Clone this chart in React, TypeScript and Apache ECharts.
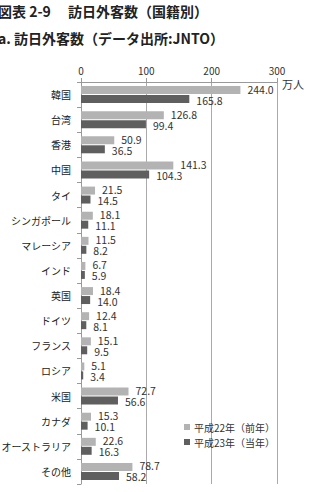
import React, { useEffect, useRef } from "react";
import * as echarts from "echarts";

const categories = ["韓国", "台湾", "香港", "中国", "タイ", "シンガポール", "マレーシア", "インド", "英国", "ドイツ", "フランス", "ロシア", "米国", "カナダ", "オーストラリア", "その他"];
const h22 = [244.0, 126.8, 50.9, 141.3, 21.5, 18.1, 11.5, 6.7, 18.4, 12.4, 15.1, 5.1, 72.7, 15.3, 22.6, 78.7];
const h23 = [165.8, 99.4, 36.5, 104.3, 14.5, 11.1, 8.2, 5.9, 14.0, 8.1, 9.5, 3.4, 56.6, 10.1, 16.3, 58.2];
const seriesNames = ["平成22年（前年）", "平成23年（当年）"];
const title1 = "図表 2-9　 訪日外客数（国籍別）";
const title2 = "a. 訪日外客数（データ出所:JNTO）";
const unit = "万人";

const FONT = "'Noto Sans CJK JP', 'Noto Sans', sans-serif";

export default function App() {
  const ref = useRef<HTMLDivElement>(null);
  useEffect(() => {
    const chart = echarts.init(ref.current!, null, { renderer: "svg" });
    const valueLabel = (dy: number) => ({
      show: true,
      position: "right",
      distance: 7,
      offset: [0, dy],
      color: "#333",
      fontSize: 10.5,
      lineHeight: 9,
      fontFamily: FONT,
      formatter: (p: any) => p.value.toFixed(1),
    });
    chart.setOption({
      animation: false,
      textStyle: { fontFamily: FONT },
      grid: { left: 81, right: 39, top: 82, bottom: 8, containLabel: false, outerBoundsMode: "none" },
      xAxis: {
        type: "value",
        position: "top",
        min: 0,
        max: 300,
        interval: 100,
        axisLine: { show: true, lineStyle: { color: "#999" } },
        axisTick: { show: true, length: 4, lineStyle: { color: "#999" } },
        axisLabel: { color: "#333", fontSize: 10, margin: 7, fontFamily: FONT },
        splitLine: { show: true, lineStyle: { color: "#aaa", width: 1 } },
      },
      yAxis: {
        type: "category",
        inverse: true,
        data: categories,
        axisLine: { show: true, lineStyle: { color: "#999" } },
        axisTick: { show: true, length: 4, lineStyle: { color: "#999" } },
        axisLabel: { color: "#222", fontSize: 10, margin: 10, fontFamily: FONT },
      },
      legend: {
        orient: "vertical",
        left: 179,
        top: 417,
        itemWidth: 6,
        itemHeight: 6,
        itemGap: 5,
        icon: "rect",
        textStyle: { color: "#333", fontSize: 10, padding: [0, 0, 0, -1], fontFamily: FONT },
        data: seriesNames,
      },
      graphic: [
        { type: "text", left: -2, top: 4, style: { text: title1, font: `bold 14px ${FONT}`, fill: "#222" } },
        { type: "text", left: -2, top: 31, style: { text: title2, font: `bold 14px ${FONT}`, fill: "#222" } },
        { type: "text", left: 282, top: 78, style: { text: unit, font: `11px ${FONT}`, fill: "#333" } },
      ],
      series: [
        {
          name: seriesNames[0],
          type: "bar",
          data: h22,
          barWidth: 8,
          barGap: "12%",
          itemStyle: { color: "#b3b3b3" },
          label: valueLabel(-1),
        },
        {
          name: seriesNames[1],
          type: "bar",
          data: h23,
          barWidth: 8,
          itemStyle: { color: "#5f5f5f" },
          label: valueLabel(1),
        },
      ],
    });
    return () => chart.dispose();
  }, []);
  return <div ref={ref} style={{ position: "fixed", left: 0, top: 0, width: 316, height: 492, background: "#fff" }} />;
}
